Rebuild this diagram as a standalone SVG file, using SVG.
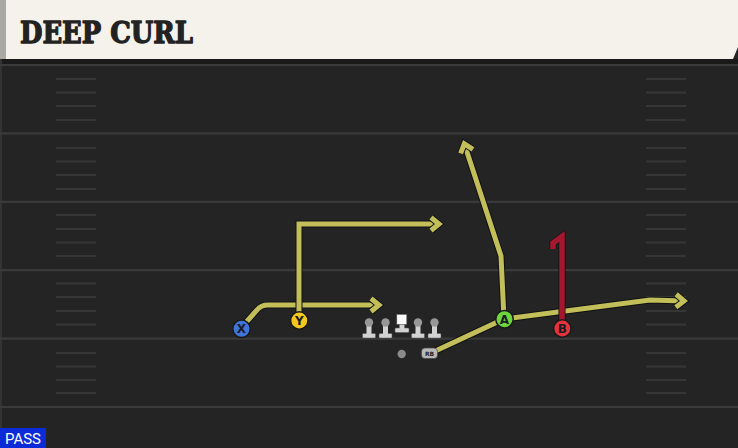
<svg xmlns="http://www.w3.org/2000/svg" xmlns:xlink="http://www.w3.org/1999/xlink" width="738" height="448" viewBox="0 0 738 448">
<style>
.yard{stroke:#3a3a3a;stroke-width:2.2}
.hash{stroke:#363636;stroke-width:2}
.rt-o{fill:none;stroke:#111;stroke-width:7;stroke-linejoin:miter}
.rt{fill:none;stroke:#c2bf5b;stroke-width:5;stroke-linejoin:miter}
.rt-red{fill:none;stroke:#a5162f;stroke-width:5.5;stroke-linejoin:miter}
.pl{stroke:#1a1a1a;stroke-width:1.5}
.lbl{font-family:"DejaVu Sans",sans-serif;font-weight:bold;font-size:12px;fill:#1b1b24;text-anchor:middle}
</style>
<defs>
<marker id="arr" markerUnits="userSpaceOnUse" viewBox="-14 -12 18 24" refX="0" refY="0" markerWidth="18" markerHeight="24" orient="auto" overflow="visible">
<path d="M-8,-6.5 L0,0 L-8,6.5" fill="none" stroke="#111" stroke-width="7" stroke-linejoin="miter"/>
<path d="M-8,-6.5 L0,0 L-8,6.5" fill="none" stroke="#c2bf5b" stroke-width="5" stroke-linejoin="miter"/>
</marker>
<g id="ol">
<rect x="-6.5" y="-4.5" width="13" height="4.5" rx="1" fill="#d2d2d2" stroke="#555" stroke-width="0.5"/>
<rect x="-2.5" y="-15" width="5" height="11" fill="#d2d2d2"/>
<circle cx="0" cy="-15.5" r="4.2" fill="#979797"/>
</g>
</defs>

<!-- background -->
<rect x="0" y="0" width="738" height="448" fill="#242424"/>
<rect x="0" y="59" width="738" height="6" fill="#1a1a1a"/>
<rect x="0" y="59" width="2" height="389" fill="#333"/>

<!-- header -->
<g id="header">
<polygon points="6,0 738,0 738,47 733,59 6,59" fill="#f5f2eb"/>
<rect x="0" y="0" width="6" height="59" fill="#a9aaa5"/>
<text x="20" y="43" font-family="'DejaVu Serif',serif" font-weight="bold" font-size="29" fill="#222" stroke="#222" stroke-width="1.3" stroke-linejoin="round" textLength="173" lengthAdjust="spacingAndGlyphs">DEEP CURL</text>
</g>

<!-- field -->
<g id="field">
<line class="yard" x1="0" y1="65" x2="738" y2="65"/>
<line class="yard" x1="0" y1="133.4" x2="738" y2="133.4"/>
<line class="yard" x1="0" y1="201.8" x2="738" y2="201.8"/>
<line class="yard" x1="0" y1="270.2" x2="738" y2="270.2"/>
<line class="yard" x1="0" y1="338.6" x2="738" y2="338.6"/>
<line class="yard" x1="0" y1="407" x2="738" y2="407"/>
<g class="hash">
<path d="M56,79H96M56,92.5H96M56,106H96M56,120H96M56,148H96M56,161.5H96M56,175H96M56,189H96M56,215H96M56,229H96M56,242.5H96M56,256H96M56,283.5H96M56,297H96M56,311H96M56,324.5H96M56,353H96M56,366.5H96M56,380H96M56,393H96"/>
<path d="M646,79H686M646,92.5H686M646,106H686M646,120H686M646,148H686M646,161.5H686M646,175H686M646,189H686M646,215H686M646,229H686M646,242.5H686M646,256H686M646,283.5H686M646,297H686M646,311H686M646,324.5H686M646,353H686M646,366.5H686M646,380H686M646,393H686"/>
</g>
</g>

<!-- connectors / routes -->
<g id="routes">
<path class="rt-o" d="M241,328 L257,310 Q261,305 268,305 L379,305"/>
<path class="rt" d="M241,328 L257,310 Q261,305 268,305 L379,305" marker-end="url(#arr)"/>
<path class="rt-o" d="M299,321 L299,224 L439,224"/>
<path class="rt" d="M299,321 L299,224 L439,224" marker-end="url(#arr)"/>
<path class="rt-o" d="M504,319 L501,256 L464.3,143.8"/>
<path class="rt" d="M504,319 L501,256 L464.3,143.8" marker-end="url(#arr)"/>
<path class="rt-o" d="M431,353 L504,319 L650,300 L684,301"/>
<path class="rt" d="M431,353 L504,319 L650,300 L684,301" marker-end="url(#arr)"/>
<path class="rt-o" d="M562,328 V236.5 L553,243 V249" stroke-width="7.5"/>
<path class="rt-red" d="M562,328 V236.5 L553,243 V249"/>
</g>

<!-- offensive line -->
<g id="lt"><use xlink:href="#ol" href="#ol" x="369" y="338"/></g>
<g id="lg"><use xlink:href="#ol" href="#ol" x="385.5" y="338"/></g>
<g id="c">
<rect x="395" y="328" width="14" height="4.5" rx="1" fill="#d2d2d2" stroke="#555" stroke-width="0.5"/>
<rect x="399.5" y="323" width="5" height="6" fill="#d2d2d2"/>
<rect x="396.8" y="314.3" width="10" height="10" fill="#fafafa" stroke="#555" stroke-width="0.6"/>
</g>
<g id="rg"><use xlink:href="#ol" href="#ol" x="418" y="338"/></g>
<g id="rt"><use xlink:href="#ol" href="#ol" x="434.5" y="338"/></g>

<g id="qb"><circle cx="401.7" cy="354" r="4.2" fill="#8a8a8a"/></g>
<g id="rb">
<rect x="421.5" y="348" width="16" height="10.5" rx="3.5" fill="#b8b8b8" stroke="#444" stroke-width="0.7"/>
<text x="429.5" y="356.3" font-family="'DejaVu Sans',sans-serif" font-weight="bold" font-size="6" fill="#222" text-anchor="middle">RB</text>
</g>

<!-- skill players -->
<g id="x"><circle class="pl" cx="241.5" cy="328.8" r="8.7" fill="#3f74d8"/><text class="lbl" x="241.5" y="333.2">X</text></g>
<g id="y"><circle class="pl" cx="299.3" cy="320.5" r="8.7" fill="#f2c81e"/><text class="lbl" x="299.3" y="324.9">Y</text></g>
<g id="a"><circle class="pl" cx="504.5" cy="319.2" r="8.7" fill="#6dd63c"/><text class="lbl" x="504.5" y="323.6">A</text></g>
<g id="b"><circle class="pl" cx="562.3" cy="328.5" r="8.7" fill="#e3333c"/><text class="lbl" x="562.3" y="332.9">B</text></g>

<!-- formation tag -->
<g id="tag">
<rect x="0" y="428" width="46" height="20" fill="#0b2bd8"/>
<text x="5" y="444" font-family="Roboto,'DejaVu Sans',sans-serif" font-size="15" fill="#fff" textLength="36" lengthAdjust="spacingAndGlyphs">PASS</text>
</g>
</svg>
